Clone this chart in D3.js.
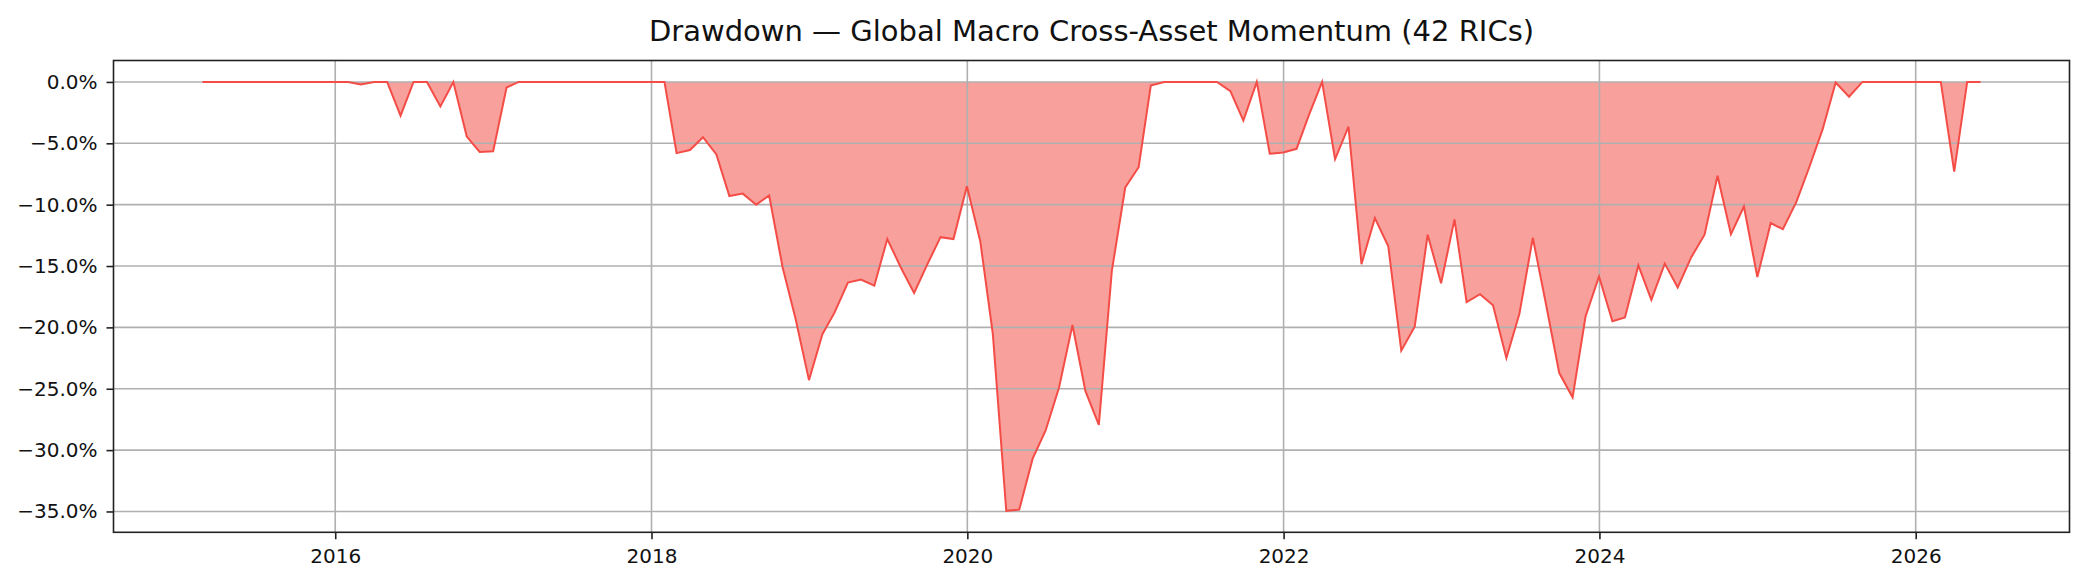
<!DOCTYPE html>
<html>
<head>
<meta charset="utf-8">
<script src="https://cdn.jsdelivr.net/npm/d3@7"></script>
<style>
  html, body { margin: 0; padding: 0; background: #fff; }
  svg { display: block; }
</style>
</head>
<body>
<div id="chart"></div>
<script>
// Monthly drawdown (%), month-end values. 2015 starts in February.
const startMonth2015 = 2;
const dd2015 = [0, 0, 0, 0, 0, 0, 0, 0, 0, 0, 0];
const dd2016 = [0, -0.2, 0, 0, -2.75, 0, 0, -2.0, 0, -4.45, -5.7, -5.65];
const dd2017 = [-0.45, 0, 0, 0, 0, 0, 0, 0, 0, 0, 0, 0];
const dd2018 = [0, -5.8, -5.55, -4.5, -5.9, -9.3, -9.1, -10.0, -9.25, -15.1, -19.3, -24.3];
const dd2019 = [-20.55, -18.8, -16.35, -16.1, -16.6, -12.8, -15.1, -17.2, -14.9, -12.65, -12.8, -8.5];
const dd2020 = [-13.0, -20.55, -34.95, -34.85, -30.7, -28.4, -24.9, -19.8, -25.2, -27.95, -15.4, -8.6];
const dd2021 = [-6.95, -0.3, 0, 0, 0, 0, 0, -0.75, -3.15, 0, -5.85, -5.75];
const dd2022 = [-5.45, -2.75, 0, -6.3, -3.65, -14.85, -11.1, -13.4, -21.9, -19.95, -12.45, -16.4];
const dd2023 = [-11.2, -17.95, -17.3, -18.2, -22.5, -18.9, -12.7, -18.2, -23.7, -25.7, -19.1, -15.85];
const dd2024 = [-19.5, -19.2, -14.95, -17.75, -14.8, -16.75, -14.3, -12.45, -7.65, -12.4, -10.15, -15.9];
const dd2025 = [-11.5, -12.0, -9.8, -6.95, -3.85, -0.05, -1.2, 0, 0, 0, 0, 0];
const dd2026 = [0, 0, -7.3, 0, 0];

const yearRows = [
    [2015, dd2015], [2016, dd2016], [2017, dd2017], [2018, dd2018],
    [2019, dd2019], [2020, dd2020], [2021, dd2021], [2022, dd2022],
    [2023, dd2023], [2024, dd2024], [2025, dd2025], [2026, dd2026]
];

const yTickValues = [0, -5, -10, -15, -20, -25, -30, -35];
const xTickYears = [2016, 2018, 2020, 2022, 2024, 2026];
const chartTitle = 'Drawdown \u2014 Global Macro Cross-Asset Momentum (42 RICs)';

// Build month-end points
const points = [];
yearRows.forEach(([year, vals]) => {
    const first = year === 2015 ? startMonth2015 : 1;
    vals.forEach((v, i) => {
        // day 0 of next month = last day of this month
        points.push({ date: new Date(Date.UTC(year, first + i, 0)), value: v });
    });
});

const width = 2085, height = 583;
const plotLeft = 113.5, plotRight = 2069.5, plotTop = 60.5, plotBottom = 532.3;

const svg = d3.select('#chart')
    .append('svg')
    .attr('width', width)
    .attr('height', height)
    .attr('font-family', "'DejaVu Sans', sans-serif");

// matplotlib-like 5% margins
const xExt = d3.extent(points, d => +d.date);
const xPad = (xExt[1] - xExt[0]) * 0.05;
const x = d3.scaleUtc()
    .domain([new Date(xExt[0] - xPad), new Date(xExt[1] + xPad)])
    .range([plotLeft, plotRight]);

const yMin = d3.min(points, d => d.value), yMax = d3.max(points, d => d.value);
const yPad = (yMax - yMin) * 0.05;
const y = d3.scaleLinear()
    .domain([yMin - yPad, yMax + yPad])
    .range([plotBottom, plotTop]);

const lineColor = '#f44d47';
const fillColor = '#f8a09b';

// Filled area
svg.append('path')
    .datum(points)
    .attr('d', d3.area().x(d => x(d.date)).y0(y(0)).y1(d => y(d.value)))
    .attr('fill', fillColor);

// Grid (drawn above fill, below the line)
const grid = svg.append('g').attr('stroke', '#b0b0b0').attr('stroke-width', 1.6);
yTickValues.forEach(v => {
    grid.append('line')
        .attr('x1', plotLeft).attr('x2', plotRight)
        .attr('y1', y(v)).attr('y2', y(v));
});
xTickYears.forEach(yr => {
    const xv = x(new Date(Date.UTC(yr, 0, 1)));
    grid.append('line')
        .attr('x1', xv).attr('x2', xv)
        .attr('y1', plotTop).attr('y2', plotBottom);
});

// Line
svg.append('path')
    .datum(points)
    .attr('d', d3.line().x(d => x(d.date)).y(d => y(d.value)))
    .attr('fill', 'none')
    .attr('stroke', lineColor)
    .attr('stroke-width', 2)
    .attr('stroke-linejoin', 'miter');

// Axes
const fmt = d3.format('.1f');
const yAxis = svg.append('g')
    .attr('transform', `translate(${plotLeft},0)`)
    .call(d3.axisLeft(y).tickValues(yTickValues).tickSize(7).tickPadding(9)
        .tickFormat(d => fmt(d) + '%'));

const xAxis = svg.append('g')
    .attr('transform', `translate(0,${plotBottom})`)
    .call(d3.axisBottom(x)
        .tickValues(xTickYears.map(yr => new Date(Date.UTC(yr, 0, 1))))
        .tickSize(7).tickPadding(9.5)
        .tickFormat(d3.utcFormat('%Y')));

[yAxis, xAxis].forEach(a => {
    a.select('.domain').remove();
    a.selectAll('line').attr('stroke', '#222').attr('stroke-width', 1.6);
    a.selectAll('text')
        .attr('font-family', "'DejaVu Sans', sans-serif")
        .attr('font-size', '20px')
        .attr('fill', '#111');
});

// Spines
svg.append('rect')
    .attr('x', plotLeft).attr('y', plotTop)
    .attr('width', plotRight - plotLeft).attr('height', plotBottom - plotTop)
    .attr('fill', 'none')
    .attr('stroke', '#222')
    .attr('stroke-width', 1.6);

// Title
svg.append('text')
    .attr('x', (plotLeft + plotRight) / 2)
    .attr('y', 41)
    .attr('text-anchor', 'middle')
    .attr('font-size', '29px')
    .attr('fill', '#111')
    .text(chartTitle);
</script>
</body>
</html>
